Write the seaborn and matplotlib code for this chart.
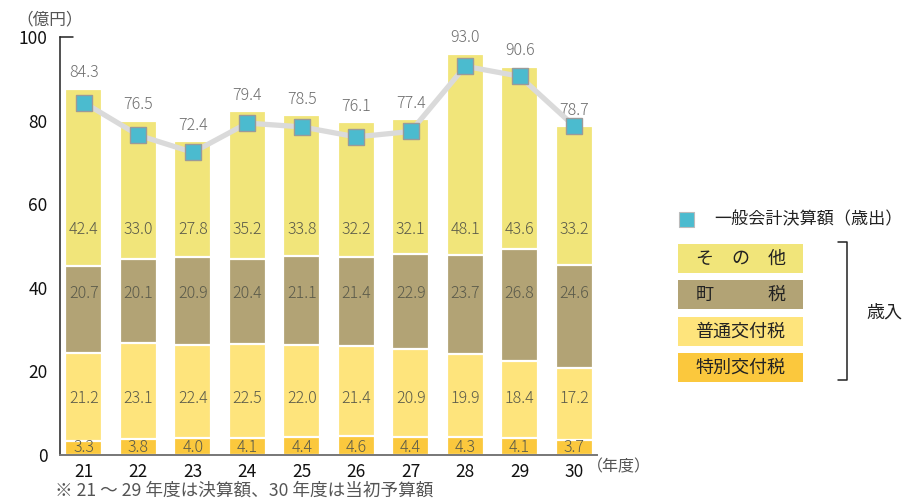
import numpy as np
import pandas as pd
import matplotlib
matplotlib.use("Agg")
import matplotlib.pyplot as plt
import seaborn as sns
from matplotlib.patches import Rectangle
from matplotlib.lines import Line2D

sns.set_style("white")
plt.rcParams['font.family'] = ['Noto Sans CJK JP', 'DejaVu Sans']

years = ['21', '22', '23', '24', '25', '26', '27', '28', '29', '30']
tokubetsu = [3.3, 3.8, 4.0, 4.1, 4.4, 4.6, 4.4, 4.3, 4.1, 3.7]      # 特別交付税
futsuu = [21.2, 23.1, 22.4, 22.5, 22.0, 21.4, 20.9, 19.9, 18.4, 17.2]  # 普通交付税
chouzei = [20.7, 20.1, 20.9, 20.4, 21.1, 21.4, 22.9, 23.7, 26.8, 24.6]  # 町税
sonota = [42.4, 33.0, 27.8, 35.2, 33.8, 32.2, 32.1, 48.1, 43.6, 33.2]   # その他
kessan = [84.3, 76.5, 72.4, 79.4, 78.5, 76.1, 77.4, 93.0, 90.6, 78.7]   # 一般会計決算額（歳出）
yticks = [0, 20, 40, 60, 80, 100]

layer_names = ['そ　の　他', '町　　　税', '普通交付税', '特別交付税']
colors = ['#F1E57A', '#B2A375', '#FEE47C', '#FBC83D']
cyan = '#4BBBCF'

df = pd.DataFrame({'year': years, 'tok': tokubetsu, 'fut': futsuu,
                   'cho': chouzei, 'son': sonota, 'kes': kessan})
df['c1'] = df['tok']
df['c2'] = df['c1'] + df['fut']
df['c3'] = df['c2'] + df['cho']
df['c4'] = df['c3'] + df['son']

W, H = 907, 504
fig = plt.figure(figsize=(W / 100, H / 100), dpi=100)
ax = fig.add_axes([60 / W, 1 - 455 / H, (597 - 60) / W, (455 - 37) / H])

for col, c in zip(['c4', 'c3', 'c2', 'c1'], colors):
    sns.barplot(data=df, x='year', y=col, color=c, width=0.68,
                edgecolor='white', linewidth=1.6, ax=ax, saturation=1)

pos = np.arange(len(years))
sns.lineplot(x=pos, y=df['kes'], ax=ax, color='#DADADA', linewidth=3.8,
             marker='s', markersize=11, markerfacecolor=cyan,
             markeredgecolor='#9A9A9A', markeredgewidth=1.0, zorder=5)

ax.set_xlim(-0.44, 9.42)
ax.set_ylim(0, 100)
ax.set_yticks(yticks)
ax.set_xticks(pos)
ax.set_xticklabels(years)
ax.set_xlabel('')
ax.set_ylabel('')
ax.tick_params(axis='both', length=0, labelsize=12.5, colors='#111111')
ax.tick_params(axis='y', pad=9)
ax.tick_params(axis='x', pad=6)
for s in ['top', 'right']:
    ax.spines[s].set_visible(False)
ax.spines['left'].set_color('#222222')
ax.spines['left'].set_linewidth(1.1)
ax.spines['bottom'].set_color('#777777')
ax.spines['bottom'].set_linewidth(1.4)
ax.plot([0, 0.025], [100, 100], transform=ax.get_yaxis_transform(),
        color='#222222', lw=1.1, clip_on=False)

# segment labels at fixed rows
rows = {'tok': 1.7, 'fut': 13.5, 'cho': 38.6, 'son': 54.0}
for key, yv in rows.items():
    for i, v in enumerate(df[key]):
        ax.text(i, yv, f'{v:.1f}', ha='center', va='center', fontsize=11.5,
                color='#5A5A4A', fontweight='light')
for i, (top, v) in enumerate(zip(df['c4'], df['kes'])):
    ax.text(i, top + 1.8, f'{v:.1f}', ha='center', va='bottom', fontsize=11.5,
            color='#6E6E6E', fontweight='light')

# texts around the axes
fig.text(16 / W, 1 - 20 / H, '（億円）', fontsize=12, color='#555555',
         ha='left', va='center')
fig.text(587 / W, 1 - 467 / H, '（年度）', fontsize=11.5, color='#555555',
         ha='left', va='center')
fig.text(55 / W, 1 - 491 / H, '※ 21 ～ 29 年度は決算額、30 年度は当初予算額',
         fontsize=12.7, color='#555555', ha='left', va='center')

# legend
fig.patches.append(Rectangle((679 / W, 1 - 227 / H), 15 / W, 15 / H,
                             transform=fig.transFigure, facecolor=cyan,
                             edgecolor='#BBBBBB', lw=0.8))
fig.text(714 / W, 1 - 219 / H, '一般会計決算額（歳出）', fontsize=12.3,
         color='#222222', ha='left', va='center')
box_tops = [244, 280, 317, 353]
for name, c, t in zip(layer_names, colors, box_tops):
    fig.patches.append(Rectangle((678 / W, 1 - (t + 29) / H), 125 / W, 29 / H,
                                 transform=fig.transFigure, facecolor=c,
                                 edgecolor='none'))
    fig.text(740.5 / W, 1 - (t + 14.5) / H, name, fontsize=13,
             color='#222222', ha='center', va='center')
bx = [838 / W, 847 / W, 847 / W, 838 / W]
by = [1 - 242 / H, 1 - 242 / H, 1 - 380 / H, 1 - 380 / H]
fig.lines.append(Line2D(bx, by, transform=fig.transFigure, color='#222222',
                        lw=1.1))
fig.text(866 / W, 1 - 313 / H, '歳入', fontsize=13, color='#222222',
         ha='left', va='center')

fig.savefig('out.png', dpi=100)
